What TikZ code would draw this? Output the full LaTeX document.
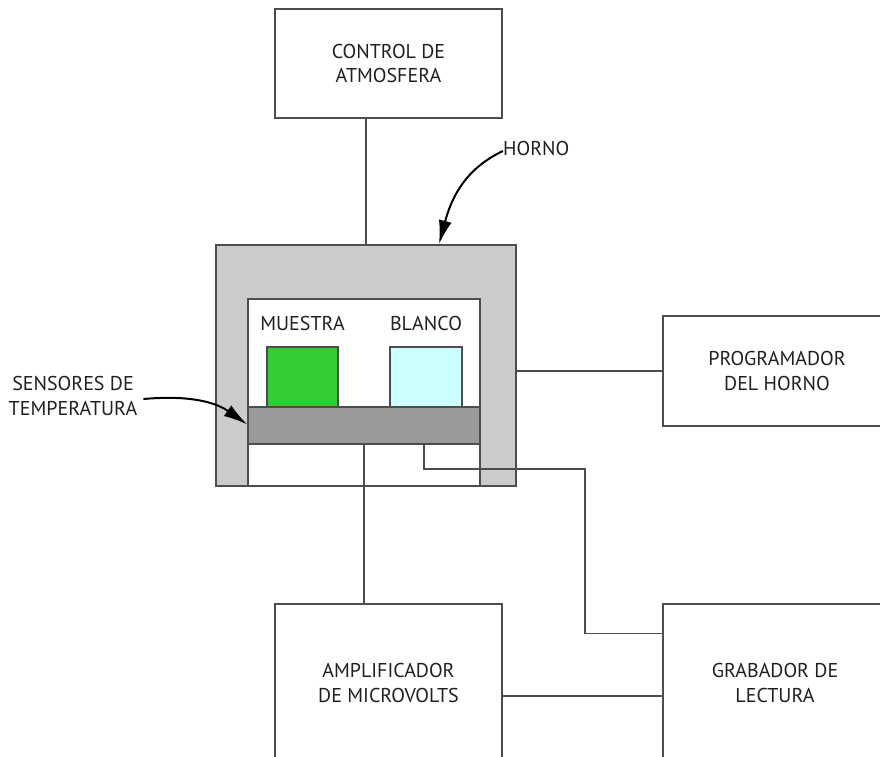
\documentclass[tikz,border=0pt]{standalone}
\usepackage{fontspec}
\setmainfont{PT Sans}
\usetikzlibrary{arrows.meta}
\definecolor{linegray}{HTML}{4D4D4D}
\definecolor{textdark}{HTML}{231F20}
\definecolor{wallgray}{HTML}{CCCCCC}
\definecolor{bargray}{HTML}{999999}
\definecolor{samplegreen}{HTML}{33CC33}
\definecolor{refcyan}{HTML}{CCFFFF}
\begin{document}
\begin{tikzpicture}[x=1pt,y=-1pt,
  lbl/.style={font=\fontsize{20}{24.5}\selectfont, text=textdark, align=center, inner sep=0pt},
  box/.style={rectangle, draw=linegray, line width=1.4pt, fill=white, lbl},
  part/.style={rectangle, draw=linegray, line width=1.4pt, inner sep=0pt},
  wire/.style={draw=linegray, line width=1.4pt},
  pointer/.style={draw=black, line width=2pt, -{Latex[length=24pt,width=13pt]}}]
\useasboundingbox (0,0) rectangle (880,756);
\fill[white] (0,0) rectangle (880,756);
\clip (0,0) rectangle (880,756);

% external units
\node[box, minimum width=227pt, minimum height=109pt] (ctrl) at (388.5,63.5) {CONTROL DE\\ATMOSFERA};
\node[box, minimum width=228pt, minimum height=110pt] (prog) at (777,371) {PROGRAMADOR\\DEL HORNO};
\node[box, minimum width=227pt, minimum height=158pt] (amp) at (388.5,683) {AMPLIFICADOR\\DE MICROVOLTS};
\node[box, minimum width=224pt, minimum height=158pt] (grab) at (775,683) {GRABADOR DE\\LECTURA};

% furnace body, cavity and sensor plate
\node[part, fill=wallgray, minimum width=300pt, minimum height=241pt] (horno) at (366,365.5) {};
\node[part, fill=white, minimum width=232pt, minimum height=187pt] (cavity) at (364,392.5) {};
\node[part, fill=samplegreen, minimum width=71pt, minimum height=60pt] (muestra) at (302.5,377) {};
\node[part, fill=refcyan, minimum width=72pt, minimum height=60pt] (blanco) at (426,377) {};
\node[part, fill=bargray, minimum width=232pt, minimum height=37pt] (bar) at (364,425.5) {};
\node[lbl] at (302.5,323) {MUESTRA};
\node[lbl] at (426,323) {BLANCO};

% connections
\draw[wire] (horno.north) -- (horno.north |- ctrl.south);
\draw[wire] (horno.east |- prog.west) -- (prog.west);
\draw[wire] (bar.south) -- (bar.south |- amp.north);
\coordinate (bend) at (585,469);
\draw[wire] ([xshift=60pt]bar.south) |- (bend) |- ([yshift=-30pt]grab.north west);
\draw[wire] ([yshift=-13pt]amp.east) -- ([yshift=-13pt]amp.east -| grab.west);

% callouts
\node[lbl, anchor=west] (hornolbl) at (503,148) {HORNO};
\draw[pointer] ([yshift=-3pt]hornolbl.west) to[out=205, in=75] ([xshift=73pt]horno.north);
\node[lbl] (senslbl) at (73,396) {SENSORES DE\\TEMPERATURA};
\draw[pointer] ([xshift=6pt,yshift=-3pt]senslbl.east) to[out=5, in=145] ([yshift=1pt]bar.west);
\end{tikzpicture}
\end{document}
